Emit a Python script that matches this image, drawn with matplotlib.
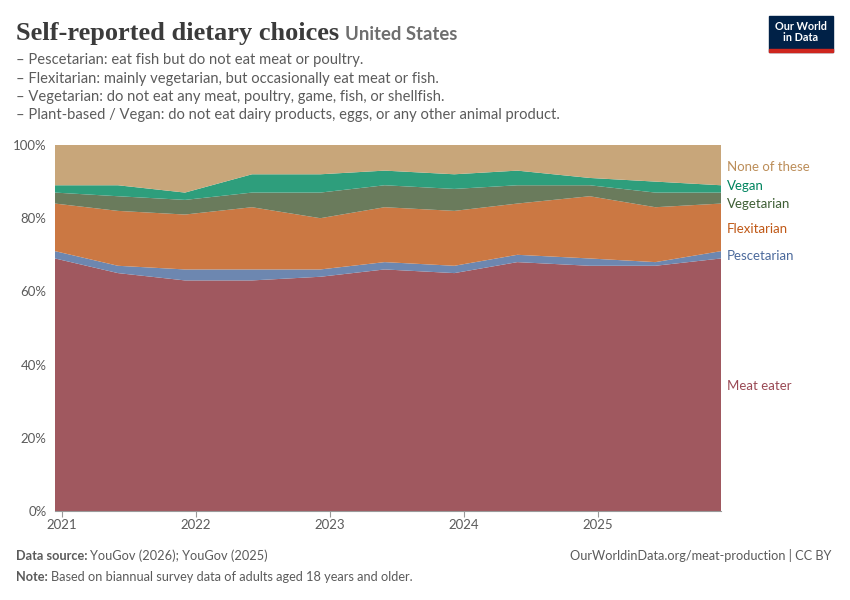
import matplotlib.pyplot as plt
from matplotlib.patches import Rectangle

# survey waves (fractional years) and shares in %
dates = [2020.95, 2021.42, 2021.92, 2022.42, 2022.93, 2023.41,
         2023.93, 2024.40, 2024.94, 2025.43, 2025.92]
meat_eater = [69, 65, 63, 63, 64, 66, 65, 68, 67, 67, 69]
pescetarian = [2, 2, 3, 3, 2, 2, 2, 2, 2, 1, 2]
flexitarian = [13, 15, 15, 17, 14, 15, 15, 14, 17, 15, 13]
vegetarian = [3, 4, 4, 4, 7, 6, 6, 5, 3, 4, 3]
vegan = [2, 3, 2, 5, 5, 4, 4, 4, 2, 3, 2]
none_of_these = [11, 11, 13, 8, 8, 7, 8, 7, 9, 10, 11]

series = [meat_eater, pescetarian, flexitarian, vegetarian, vegan, none_of_these]
names = ['Meat eater', 'Pescetarian', 'Flexitarian', 'Vegetarian', 'Vegan', 'None of these']
fill_colors = ['#a0585f', '#6d87b0', '#cb7843', '#6a7b5c', '#2e9e7c', '#c8a67a']
label_colors = ['#9a4a55', '#4c6a9c', '#c05917', '#3f5f35', '#00845f', '#bc8e5a']
year_ticks = [2021, 2022, 2023, 2024, 2025]

plt.rcParams['font.family'] = ['Lato', 'DejaVu Sans']

fig = plt.figure(figsize=(8.5, 6), dpi=100)
ax = fig.add_axes([55 / 850, 89 / 600, 666 / 850, 366 / 600])

ax.stackplot(dates, *series, colors=fill_colors, linewidth=0)
ax.set_xlim(dates[0], dates[-1])
ax.set_ylim(0, 100)

ax.set_yticks(range(0, 101, 20))
ax.set_yticklabels([f'{v}%' for v in range(0, 101, 20)])
ax.set_xticks(year_ticks)
ax.set_xticklabels([str(y) for y in year_ticks])
ax.tick_params(axis='y', length=0, labelsize=9.5, labelcolor='#5b5b5b', pad=6)
ax.tick_params(axis='x', length=4, color='#999999', labelsize=9.5, labelcolor='#5b5b5b', pad=2)
for y in range(20, 101, 20):
    ax.axhline(y, color='#dddddd', lw=0.8, ls=(0, (4, 3)), zorder=0)
for s in ['top', 'right', 'left']:
    ax.spines[s].set_visible(False)
ax.spines['bottom'].set_color('#999999')

# labels on the right, pushed apart so they don't overlap
last = [s[-1] for s in series]
mids = []
base = 0
for v in last:
    mids.append(base + v / 2)
    base += v
min_gap = 4.8
pos = list(mids)
for _ in range(20):
    for i in range(len(pos) - 1):
        gap = pos[i + 1] - pos[i]
        if gap < min_gap:
            shift = (min_gap - gap) / 2
            pos[i] -= shift
            pos[i + 1] += shift
for name, p, c in zip(names, pos, label_colors):
    ax.text(1.009, p - 0.4, name, transform=ax.get_yaxis_transform(), color=c,
            fontsize=9.5, va='center', ha='left')

# header
title = fig.text(16 / 850, 1 - 40 / 600, 'Self-reported dietary choices', fontsize=19,
                 fontweight='bold', family=['Liberation Serif', 'DejaVu Serif'],
                 color='#3b3b3b', va='baseline')
renderer = fig.canvas.get_renderer()
tb = title.get_window_extent(renderer)
fig.text((tb.x1 + 6) / 850, 1 - 40 / 600, 'United States', fontsize=13.3, fontweight='bold',
         color='#6e6e6e', va='baseline')
subtitle = [
    '– Pescetarian: eat fish but do not eat meat or poultry.',
    '– Flexitarian: mainly vegetarian, but occasionally eat meat or fish.',
    '– Vegetarian: do not eat any meat, poultry, game, fish, or shellfish.',
    '– Plant-based / Vegan: do not eat dairy products, eggs, or any other animal product.',
]
for i, line in enumerate(subtitle):
    fig.text(16 / 850, 1 - (60 + i * 18.5) / 600, line, fontsize=10.65, color='#5b5b5b',
             va='center')

# logo
fig.patches.append(Rectangle((769 / 850, 1 - 52 / 600), 64 / 850, 36 / 600,
                             transform=fig.transFigure, color='#002147'))
fig.patches.append(Rectangle((769 / 850, 1 - 52 / 600), 64 / 850, 3 / 600,
                             transform=fig.transFigure, color='#ce261e'))
fig.text(801 / 850, 1 - 32 / 600, 'Our World\nin Data', fontsize=7.8, fontweight='bold',
         color='white', ha='center', va='center', linespacing=1.05)

# footer
fs = 9.2
src = fig.text(16 / 850, 1 - 556 / 600, 'Data source:', fontsize=fs, fontweight='bold',
               color='#5b5b5b', va='center')
sb = src.get_window_extent(renderer)
fig.text((sb.x1 + 3) / 850, 1 - 556 / 600, 'YouGov (2026); YouGov (2025)', fontsize=fs,
         color='#5b5b5b', va='center')
note = fig.text(16 / 850, 1 - 577 / 600, 'Note:', fontsize=fs, fontweight='bold',
                color='#5b5b5b', va='center')
nb = note.get_window_extent(renderer)
fig.text((nb.x1 + 3) / 850, 1 - 577 / 600,
         'Based on biannual survey data of adults aged 18 years and older.',
         fontsize=fs, color='#5b5b5b', va='center')
fig.text(831 / 850, 1 - 556 / 600, 'OurWorldinData.org/meat-production | CC BY', fontsize=fs,
         color='#5b5b5b', va='center', ha='right')

fig.savefig('out.png', dpi=100)
